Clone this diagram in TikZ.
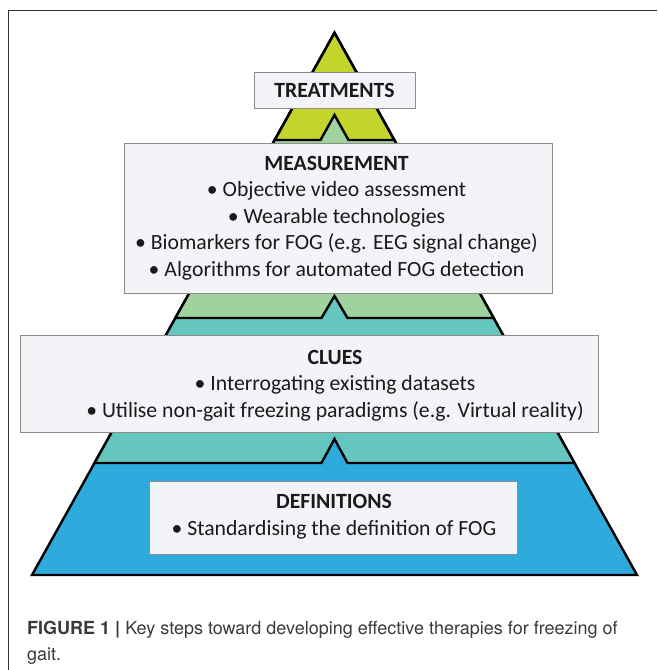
\documentclass[tikz,border=0pt]{standalone}
\usepackage{fontspec}
\setmainfont{Carlito}
\newfontfamily\capfont{TeX Gyre Heros}
\definecolor{cyel}{HTML}{C3D52B}
\definecolor{cgrn}{HTML}{A0D29E}
\definecolor{ctea}{HTML}{64C6BF}
\definecolor{cblu}{HTML}{2EAADC}
\definecolor{cbox}{HTML}{F3F4F8}
\definecolor{cbord}{HTML}{8C8C8C}
\definecolor{ctxt}{HTML}{1A1A1A}
\definecolor{ccap}{HTML}{3A3A3A}
\begin{document}
\begin{tikzpicture}[x=1pt,y=-1pt,
  layer/.style={draw=black,line width=2.4pt,line join=miter},
  box/.style={draw=cbord,fill=cbox,line width=0.9pt,inner sep=0pt},
  txt/.style={anchor=base,text=ctxt,inner sep=0pt,font=\fontsize{21.7}{26}\selectfont},
  captxt/.style={anchor=base west,text=ccap,inner sep=0pt,font=\capfont\fontsize{18}{21}\selectfont}]
\useasboundingbox (0,0) rectangle (657,670);
% frame
\draw[line width=1pt,draw=black!80] (8,670) -- (8,10) -- (657,10);
% pyramid layers
\filldraw[layer,fill=cblu] (334.5,33) -- (637,575) -- (32,575) -- cycle;
\filldraw[layer,fill=ctea] (94.5,463) -- (321.5,463) -- (334.5,439) -- (347.5,463) -- (574.5,463) -- (334.5,33) -- cycle;
\filldraw[layer,fill=cgrn] (175.4,318) -- (321.5,318) -- (334.5,296) -- (347.5,318) -- (493.6,318) -- (334.5,33) -- cycle;
\filldraw[layer,fill=cyel] (274.8,140) -- (320.5,140) -- (334.5,115) -- (348.5,140) -- (394.2,140) -- (334.5,33) -- cycle;
% boxes
\node[box,minimum width=161pt,minimum height=36pt] (tbox) at (334.5,90) {};
\node[box,minimum width=428pt,minimum height=150pt] (mbox) at (338,218) {};
\node[box,minimum width=578pt,minimum height=97pt] (cbox) at (309,383.5) {};
\node[box,minimum width=368pt,minimum height=73pt] (dbox) at (333,517.5) {};
% texts
\node[txt] (t1) at (334.5,97.3) {\bfseries TREATMENTS};
\node[txt] (m1) at (336.5,170) {\bfseries MEASUREMENT};
\node[txt] (m2) at (336.5,196.5) {• Objective video assessment};
\node[txt] (m3) at (336.5,223) {• Wearable technologies};
\node[txt] (m4) at (336.5,249.5) {• Biomarkers for FOG (e.g. EEG signal change)};
\node[txt] (m5) at (336.5,276) {• Algorithms for automated FOG detection};
\node[txt] (c1) at (335,364) {\bfseries CLUES};
\node[txt] (c2) at (335,390.5) {• Interrogating existing datasets};
\node[txt] (c3) at (335,417) {• Utilise non-gait freezing paradigms (e.g. Virtual reality)};
\node[txt] (d1) at (334,508) {\bfseries DEFINITIONS};
\node[txt] (d2) at (334,535) {• Standardising the definition of FOG};
% caption
\node[captxt] (cap1) at (27,634) {\textbf{FIGURE 1 |} Key steps toward developing effective therapies for freezing of};
\node[captxt] (cap2) at (27,660) {gait.};
\end{tikzpicture}
\end{document}
